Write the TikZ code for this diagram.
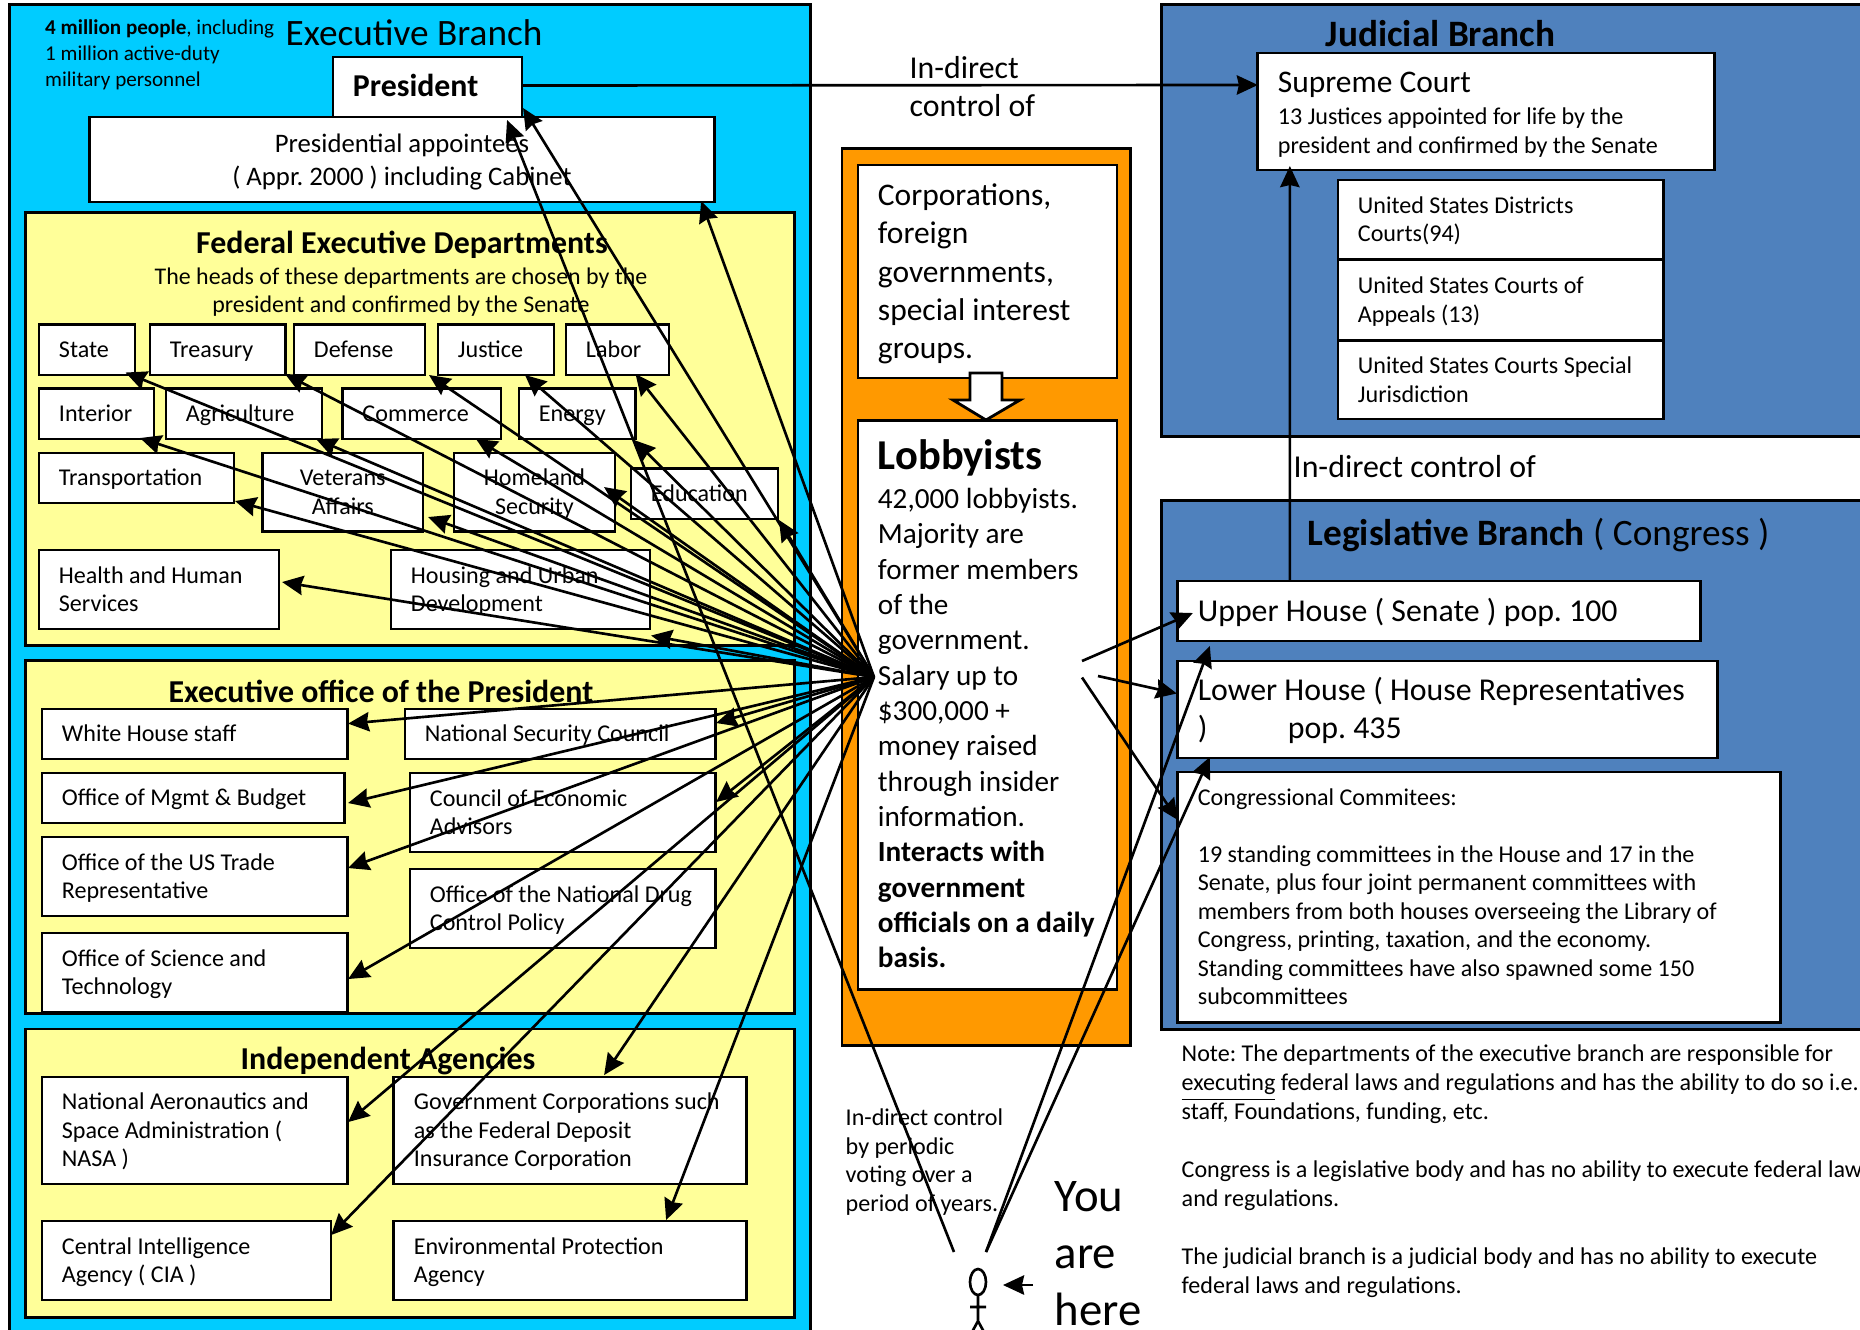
\documentclass[tikz,border=0pt]{standalone}
\usepackage{fontspec}
\setmainfont{Carlito}
\usetikzlibrary{arrows.meta}
\definecolor{execblue}{HTML}{00CCFF}
\definecolor{deptyellow}{HTML}{FFFF99}
\definecolor{lobbyorange}{HTML}{FF9900}
\definecolor{courtblue}{HTML}{4F81BD}
\frenchspacing
\newcommand{\fs}[2]{\fontsize{#1}{#2}\selectfont}
\newcommand{\bx}[7][]{%
\pgfmathsetmacro\bxw{(#5-#3)*0.28453}
\pgfmathsetmacro\bxh{(#6-#4)*0.28453}
\pgfmathsetmacro\bxt{(#5-#3-40)*0.28453}
\node[bx,minimum width=\bxw pt,minimum height=\bxh pt,text width=\bxt pt,#1] (#2) at ({(#3+#5)/2},{(#4+#6)/2}) {\rule{0pt}{.85\baselineskip}#7\strut};}
\begin{document}
\begin{tikzpicture}[x=0.01cm,y=-0.01cm,line join=miter,>={Stealth[length=6pt,width=5.5pt,inset=0.6pt]},
bx/.style={draw,fill=white,line width=0.8pt,inner xsep=5.69pt,inner ysep=0pt,outer sep=0pt,align=flush left,font=\fs{6.85}{8.1}},
cen/.style={align=flush center},
big/.style={font=\fs{9.05}{10.8}},
lbl/.style={anchor=west,inner sep=0pt,align=flush left,font=\fs{6.85}{8.1}},
ttl/.style={inner sep=0pt,align=flush center,font=\fs{9.07}{10}\bfseries},
conn/.style={->,line width=0.75pt}]
\useasboundingbox (0,0) rectangle (1860,1329);
\clip (0,0) rectangle (1860,1329);
\bx[fill=execblue]{exec}{10}{5}{810}{1350}{}
\node[lbl,font=\fs{6}{7.45}] (people) at (44.5,54.5) {\textbf{4 million people}, including\\1 million active-duty\\military personnel};
\node[lbl,font=\fs{10.6}{12}] (exectitle) at (285,33) {Executive Branch};
\bx[font=\fs{9.05}{10}\bfseries]{president}{333}{57}{522}{117}{President}
\bx[cen,font=\fs{7.6}{9.4}]{appointees}{90}{117}{714}{202}{Presidential appointees\\( Appr. 2000 ) including Cabinet}
\bx[fill=deptyellow]{feddept}{26}{213}{794}{645}{}
\node[ttl] (fedtitle) at (402,245) {Federal Executive Departments};
\node[lbl,anchor=center,align=flush center,font=\fs{6.8}{8.1}] (fednote) at (401,292) {The heads of these departments are chosen by the\\president and confirmed by the Senate};
\bx{state}{39}{324.5}{135}{375}{State}
\bx{treasury}{150}{324.5}{285.5}{375}{Treasury}
\bx{defense}{294}{324.5}{425}{375}{Defense}
\bx{justice}{438}{324.5}{554}{375}{Justice}
\bx{labor}{566}{324.5}{669}{375}{Labor}
\bx{interior}{39}{388.5}{154}{439}{Interior}
\bx{agriculture}{166}{388.5}{322}{439}{Agriculture}
\bx{commerce}{342.5}{388.5}{501}{439}{Commerce}
\bx{energy}{519}{388.5}{635.5}{439}{Energy}
\bx{transportation}{39}{453}{234}{503}{Transportation}
\bx[cen]{veterans}{262.5}{453}{423}{531.6}{Veterans\\Affairs}
\bx[cen]{homeland}{454}{453}{615}{531.6}{Homeland\\Security}
\bx{education}{631}{468.5}{778}{519}{Education}
\bx{health}{39}{550}{279}{629}{Health and Human\\Services}
\bx{housing}{391}{550}{650}{629}{Housing and Urban\\Development}
\bx[fill=deptyellow]{execoffice}{26}{660.4}{794.5}{1013}{}
\node[ttl] (officetitle) at (381,691) {Executive office of the President};
\bx{whitehouse}{42}{709}{347}{759}{White House staff}
\bx{nsc}{405}{709}{715}{759}{National Security Council}
\bx{mgmt}{42}{773}{344.5}{823}{Office of Mgmt \& Budget}
\bx{cea}{410}{773}{715}{852}{Council of Economic\\Advisors}
\bx{trade}{42}{837}{347}{916}{Office of the US Trade\\Representative}
\bx{drug}{410}{869}{715}{948}{Office of the National Drug\\Control Policy}
\bx{science}{42}{933}{347}{1012}{Office of Science and\\Technology}
\bx[fill=deptyellow]{agencies}{26}{1029}{794.5}{1317}{}
\node[ttl] (agencytitle) at (388,1061) {Independent Agencies};
\bx{nasa}{42}{1077}{347}{1184}{National Aeronautics and\\Space Administration (\\NASA )}
\bx{govcorp}{394}{1077}{746}{1184}{Government Corporations such\\as the Federal Deposit\\Insurance Corporation}
\bx{cia}{42}{1221}{331}{1300}{Central Intelligence\\Agency ( CIA )}
\bx{epa}{394}{1221}{746}{1300}{Environmental Protection\\Agency}
\bx[fill=lobbyorange]{lobbypanel}{842}{149}{1130}{1045}{}
\bx[font=\fs{8.95}{10.9}]{corps}{858}{165}{1117}{378}{Corporations,\\foreign\\governments,\\special interest\\groups.}
\bx[font=\fs{8.3}{10.05}]{lobby}{858}{421}{1117}{989}{\rule{0pt}{10.8pt}{\fs{12.1}{12}\bfseries Lobbyists}\\[1pt]42,000 lobbyists.\\Majority are\\former members\\of the\\government.\\Salary up to\\\$300,000 +\\money raised\\through insider\\information.\\\textbf{Interacts with}\\\textbf{government}\\\mbox{\textbf{officials on a daily}}\\\textbf{basis.}}
\draw[fill=white,line width=0.8pt] (970,373)--(1002,373)--(1002,400)--(1020,400)--(986,420)--(953,400)--(970,400)--cycle;
\bx[fill=courtblue]{judicial}{1162}{5}{1880}{436.5}{}
\node[ttl,font=\fs{10.6}{12}\bfseries,anchor=west] (judtitle) at (1325,34) {Judicial Branch};
\bx[font=\fs{8.95}{8.1}]{supreme}{1258}{53}{1714}{170}{\rule{0pt}{9pt}Supreme Court\\[1pt]\fs{6.85}{8.1}13 Justices appointed for life by the\\president and confirmed by the Senate}
\bx{districts}{1338}{180}{1663}{259}{United States Districts\\Courts(94)}
\bx{appeals}{1338}{260}{1663}{340}{United States Courts of\\Appeals (13)}
\bx{special}{1338}{341}{1663}{419}{United States Courts Special\\Jurisdiction}
\bx[fill=courtblue]{legislative}{1162}{501}{1880}{1029}{}
\node[lbl,font=\fs{10.6}{12}] (legtitle) at (1307,535) {\textbf{Legislative Branch} ( Congress )};
\bx[big]{upper}{1178}{581}{1700}{641}{Upper House ( Senate ) pop. 100}
\bx[big]{lower}{1178}{661}{1717}{758}{Lower House ( House Representatives\\\makebox[25.6pt][l]{)}pop. 435}
\bx{committees}{1178}{772}{1780}{1022}{Congressional Commitees:\\[8.1pt]19 standing committees in the House and 17 in the\\Senate, plus four joint permanent committees with\\members from both houses overseeing the Library of\\Congress, printing, taxation, and the economy.\\Standing committees have also spawned some 150\\subcommittees}
\node[lbl,font=\fs{9.05}{10.8}] (ctrl) at (909,87) {In-direct\\control of};
\node[lbl,font=\fs{9.07}{10.8}] (ctrlsenate) at (1293,467) {In-direct control of};
\node[lbl,font=\fs{6.85}{8.1}] (ctrlvote) at (845,1162) {In-direct control\\by periodic\\voting over a\\period of years.};
\node[lbl,font=\fs{13.3}{16.2}] (here) at (1054,1254) {You\\are\\here};
\node[lbl,anchor=north west,font=\fs{6.85}{8.25}] (note) at (1181,1044) {Note: The departments of the executive branch are responsible for\\\underline{executing} federal laws and regulations and has the ability to do so i.e.\\staff, Foundations, funding, etc.\\[8.25pt]Congress is a legislative body and has no ability to execute federal laws\\and regulations.\\[8.25pt]The judicial branch is a judicial body and has no ability to execute\\federal laws and regulations.};
\coordinate (hub) at (874,677);
\foreach \t/\dx/\dy in {president/1/-9,appointees/-13/-1,state/-9.5/-2.5,treasury/-.5/-1,defense/4/0,justice/-29/0,labor/-33.5/-1,
interior/-14/-1,agriculture/-6/0,commerce/-25/0,energy/-1.5/1,transportation/1/-2,veterans/5/-14.6,homeland/-11/-44.6,education/1/1,
health/3/-47,housing/1/6.5,whitehouse/1/-35.4,nsc/1/-36,mgmt/3.5/-20,cea/1/-50,trade/1/-48,science/1/-33,nasa/1/-62,cia/0/-65,
govcorp/-142/-109,epa/-80/-80}
\draw[conn] (hub)--([shift={(\dx,\dy)}]\t.south east);
\draw[conn] ([shift={(0,-1.5)}]president.east)--([shift={(0,32)}]supreme.north west);
\draw[conn] ([shift={(112,0)}]upper.north west)--([shift={(32,-4)}]supreme.south west);
\coordinate (lobbyup) at (1082,661);
\coordinate (lobbymid) at (1098,676);
\coordinate (lobbydown) at (1082,677.5);
\draw[conn] (lobbyup)--([shift={(15,2)}]upper.west);
\draw[conn] (lobbymid)--([shift={(-1,-16)}]lower.west);
\draw[conn] (lobbydown)--([shift={(0,-77)}]committees.west);
\coordinate (voterl) at (954,1252);
\coordinate (voterr) at (986,1252);
\draw[conn] (voterl)--([shift={(-15,3)}]president.south east);
\draw[conn] (voterr)--([shift={(32,5)}]upper.south west);
\draw[conn] (voterr)--([shift={(32,-1)}]lower.south west);
\draw[line width=0.75pt] (978,1282) ellipse (8 and 13);
\draw[line width=0.75pt] (978,1295)--(978,1321)--(972,1332) (978,1321)--(984,1332) (970,1307)--(986,1307);
\coordinate (herefrom) at (1033,1285);
\coordinate (hereto) at (1003,1285);
\draw[conn] (herefrom)--(hereto);
\end{tikzpicture}
\end{document}
